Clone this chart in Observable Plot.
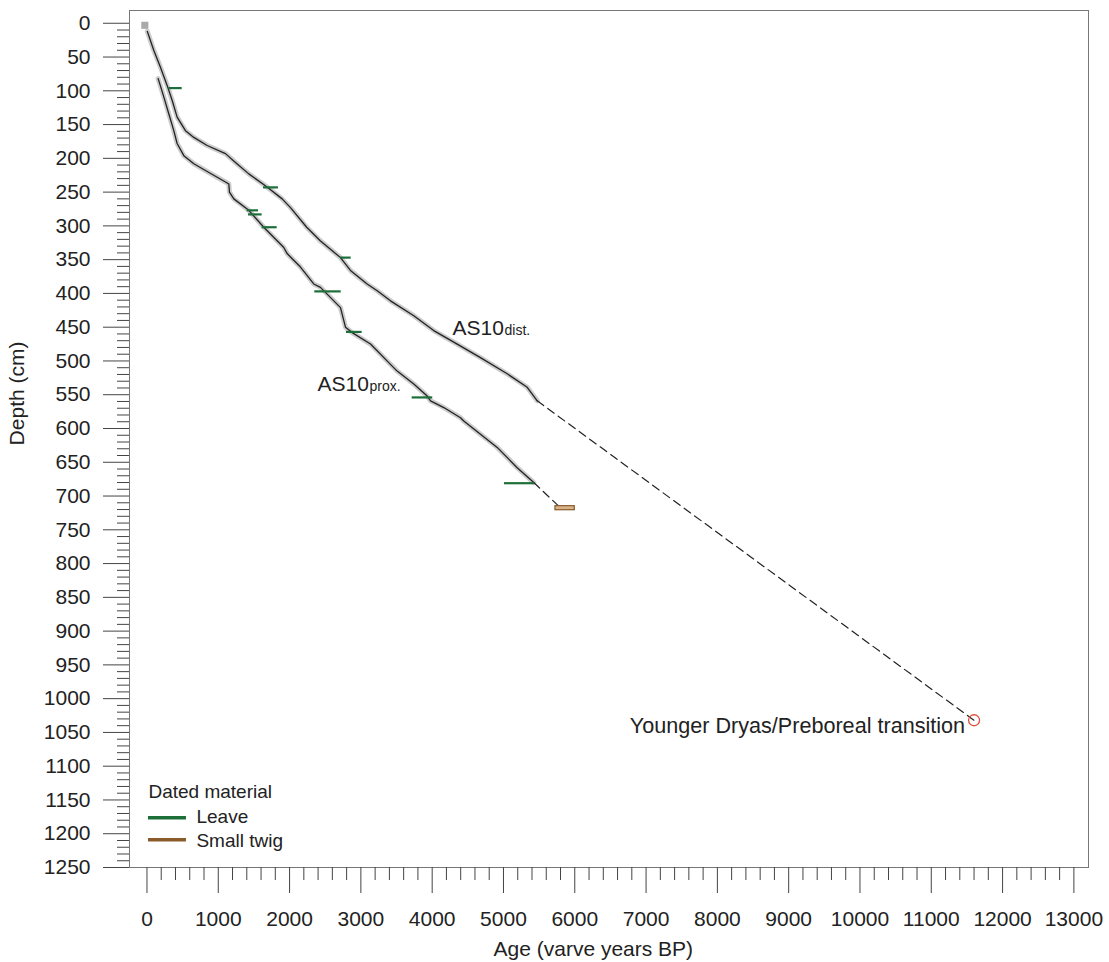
<!DOCTYPE html>
<html>
<head>
<meta charset="utf-8">
<script src="https://cdn.jsdelivr.net/npm/d3@7"></script>
<script src="https://cdn.jsdelivr.net/npm/@observablehq/plot@0.6"></script>
<style>
  body { margin: 0; background: #fff; }
  #chart svg { display: block; }
</style>
</head>
<body>
<div id="chart"></div>
<script>
// Age–depth model of the two AS10 cores (varve chronology)
const distAge   = [5, 95, 189, 283, 353, 423, 540, 657, 844, 1101, 1241, 1428, 1680, 1896, 2013, 2240, 2430, 2714, 2854, 3088, 3229, 3415, 3742, 4022, 4351, 4677, 5052, 5333, 5473];
const distDepth = [12, 40, 65, 92, 114, 139, 159, 169, 181, 193, 206, 223, 242, 260, 273, 302, 322, 347, 366, 386, 396, 411, 433, 455, 475, 495, 519, 539, 559];

const proxAge   = [157, 236, 306, 376, 423, 517, 657, 820, 985, 1101, 1148, 1157, 1218, 1428, 1638, 1919, 1966, 2013, 2153, 2339, 2433, 2527, 2714, 2760, 2784, 2878, 3135, 3415, 3509, 3742, 3930, 3977, 4163, 4397, 4443, 4912, 5192, 5425];
const proxDepth = [82, 109, 134, 159, 178, 196, 208, 218, 228, 235, 238, 250, 260, 277, 302, 332, 341, 346, 361, 386, 391, 401, 421, 440, 450, 458, 475, 505, 515, 534, 552, 559, 569, 584, 589, 628, 658, 680];

// Extrapolations (dashed): distal core to the Younger Dryas/Preboreal transition,
// proximal core to the basal twig date
const ydAge = 11600, ydDepth = 1032;
const twigAge = [5729, 6000];
const twigDepth = 718;

// Radiocarbon-dated leaves: calibrated age range at sample depth
const leafDepth = [96, 243, 277, 283, 302, 347, 397, 457, 554, 681];
const leafAgeMin = [306, 1634, 1405, 1424, 1616, 2714, 2353, 2798, 3719, 5014];
const leafAgeMax = [494, 1844, 1564, 1615, 1826, 2864, 2724, 3018, 4008, 5435];

const xMajor = d3.range(0, 13001, 1000);
const xMinor = d3.range(0, 13001, 200).filter(d => d % 1000 !== 0);
const yMajor = d3.range(0, 1251, 50);
const yMinor = d3.range(0, 1251, 10).filter(d => d % 50 !== 0);

const dist = distAge.map((a, i) => ({age: a, depth: distDepth[i]}));
const prox = proxAge.map((a, i) => ({age: a, depth: proxDepth[i]}));
const leaves = leafDepth.map((d, i) => ({depth: d, a1: leafAgeMin[i], a2: leafAgeMax[i]}));
const distExt = [dist[dist.length - 1], {age: ydAge, depth: ydDepth}];
const proxExt = [prox[prox.length - 1], {age: (twigAge[0] + twigAge[1]) / 2 - 60, depth: twigDepth}];

const leafColor = "#1d6f3a";
const twigColor = "#8b5a2b";
const ink = "#222";
const font = "'Liberation Sans', Arial, sans-serif";

const chart = Plot.plot({
  width: 1109,
  height: 962,
  marginLeft: 129,
  marginRight: 21,
  marginTop: 10,
  marginBottom: 95,
  style: {fontFamily: font, fontSize: "21px", color: ink, background: "#fff"},
  x: {domain: [-245, 13205], label: null},
  y: {domain: [-18.9, 1250], reverse: true, label: null},
  marks: [
    Plot.frame({stroke: "#777"}),
    // axes
    Plot.axisY(yMinor, {tickSize: 12, tickFormat: () => "", stroke: "#444", label: null}),
    Plot.axisY(yMajor, {tickSize: 26, tickPadding: 13, tickFormat: d => String(d), stroke: "#444", fill: ink, fontSize: 21, label: null}),
    Plot.axisX(xMinor, {tickSize: 13, tickFormat: () => "", stroke: "#444", label: null}),
    Plot.axisX(xMajor, {tickSize: 26, tickPadding: 18, tickFormat: d => String(d), stroke: "#444", fill: ink, fontSize: 21, label: null}),
    Plot.text([{x: 6260, t: "Age (varve years BP)"}], {x: "x", text: "t", frameAnchor: "bottom", dy: 88, lineAnchor: "bottom", fontSize: 21, fill: ink}),
    Plot.text([{y: 625, t: "Depth (cm)"}], {y: "y", text: "t", frameAnchor: "left", dx: -112, rotate: -90, lineAnchor: "middle", fontSize: 21, fill: ink}),

    // uncertainty haze along the varve counts
    Plot.line(dist, {x: "age", y: "depth", stroke: "#aaa", strokeWidth: 5, strokeOpacity: 0.6}),
    Plot.line(prox, {x: "age", y: "depth", stroke: "#aaa", strokeWidth: 5, strokeOpacity: 0.6}),
    Plot.dot([{age: -30, depth: 3}], {x: "age", y: "depth", symbol: "square", r: 4, fill: "#aaa"}),

    // age–depth curves
    Plot.line(dist, {x: "age", y: "depth", stroke: ink, strokeWidth: 1.3}),
    Plot.line(prox, {x: "age", y: "depth", stroke: ink, strokeWidth: 1.3}),
    Plot.line(distExt, {x: "age", y: "depth", stroke: ink, strokeWidth: 1.2, strokeDasharray: "8,5"}),
    Plot.line(proxExt, {x: "age", y: "depth", stroke: ink, strokeWidth: 1.2, strokeDasharray: "8,5"}),

    // dated samples
    Plot.ruleY(leaves, {y: "depth", x1: "a1", x2: "a2", stroke: leafColor, strokeWidth: 2.2}),
    Plot.rect([{a1: twigAge[0], a2: twigAge[1], d1: twigDepth - 3, d2: twigDepth + 3}], {x1: "a1", x2: "a2", y1: "d1", y2: "d2", fill: "#d8b48a", stroke: twigColor, strokeWidth: 1.2}),
    Plot.dot([{age: ydAge, depth: ydDepth}], {x: "age", y: "depth", r: 5.5, stroke: "#e0503a", strokeWidth: 1.3, fill: "none"}),

    // curve labels
    Plot.text([{age: 4285, depth: 461}], {x: "age", y: "depth", text: () => "AS10", textAnchor: "start", lineAnchor: "bottom", fontSize: 21, fill: ink}),
    Plot.text([{age: 4285, depth: 461}], {x: "age", y: "depth", text: () => "dist.", textAnchor: "start", lineAnchor: "bottom", dx: 52, fontSize: 14, fill: ink}),
    Plot.text([{age: 2391, depth: 545}], {x: "age", y: "depth", text: () => "AS10", textAnchor: "start", lineAnchor: "bottom", fontSize: 21, fill: ink}),
    Plot.text([{age: 2391, depth: 545}], {x: "age", y: "depth", text: () => "prox.", textAnchor: "start", lineAnchor: "bottom", dx: 52, fontSize: 14, fill: ink}),
    Plot.text([{age: ydAge, depth: ydDepth}], {x: "age", y: "depth", text: () => "Younger Dryas/Preboreal transition", textAnchor: "end", lineAnchor: "middle", dx: -9, dy: 6, fontSize: 21.6, fill: ink}),

    // legend
    Plot.text([{age: 21, depth: 1147}], {x: "age", y: "depth", text: () => "Dated material", textAnchor: "start", lineAnchor: "bottom", fontSize: 19, fill: ink}),
    Plot.ruleY([{depth: 1176.4, a1: 21, a2: 554}], {y: "depth", x1: "a1", x2: "a2", stroke: leafColor, strokeWidth: 3.5}),
    Plot.text([{age: 694, depth: 1184}], {x: "age", y: "depth", text: () => "Leave", textAnchor: "start", lineAnchor: "bottom", fontSize: 19, fill: ink}),
    Plot.ruleY([{depth: 1209, a1: 21, a2: 554}], {y: "depth", x1: "a1", x2: "a2", stroke: twigColor, strokeWidth: 3.5}),
    Plot.text([{age: 694, depth: 1219}], {x: "age", y: "depth", text: () => "Small twig", textAnchor: "start", lineAnchor: "bottom", fontSize: 19, fill: ink})
  ]
});

document.getElementById("chart").append(chart);
</script>
</body>
</html>
